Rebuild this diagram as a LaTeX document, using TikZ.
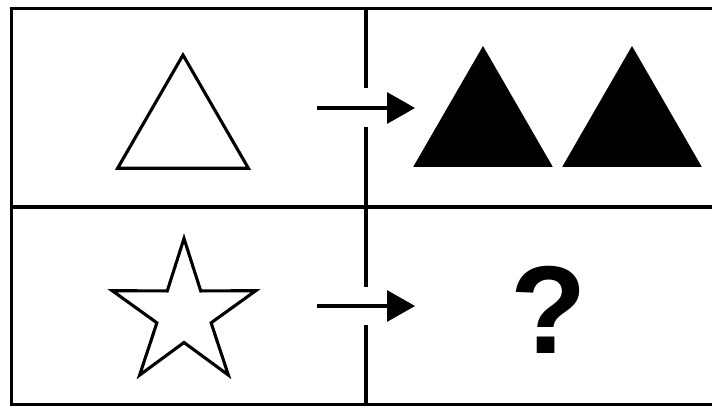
\documentclass[tikz,border=0pt]{standalone}
\usepackage{fontspec}
\setmainfont{Liberation Sans}
\usetikzlibrary{shapes.geometric,arrows.meta,positioning}

\begin{document}
\begin{tikzpicture}[x=1pt,y=-1pt,
  grid/.style={line width=3.2pt,line cap=butt},
  shapeline/.style={draw,line width=3.1pt,line join=miter,inner sep=0pt,outer sep=0pt},
  tri/.style={regular polygon,regular polygon sides=3,inner sep=0pt,outer sep=0pt},
  solid tri/.style={tri,fill=black,minimum size=161pt},
  go/.style={line width=3.2pt,-{Triangle[length=28pt,width=31pt]}}
]
  \clip (0,0) rectangle (712,407);
  % frame and dividers
  \draw[grid] (11.5,8.5) rectangle (720,404.5);
  \draw[grid] (11.5,207) -- (720,207);
  \draw[grid] (366,8.5) -- (366,88);
  \draw[grid] (366,127) -- (366,287);
  \draw[grid] (366,325) -- (366,404.5);
  % first row
  \node[tri,shapeline,minimum size=151pt] (tri) at (183,130.5) {};
  \node[solid tri] (bigA) at (483,126.5) {};
  \node[solid tri] (bigB) at (632,126.5) {};
  % second row
  \node[star,star points=5,star point ratio=2.65,shapeline,minimum size=151pt] (star) at (184,314) {};
  \node[anchor=base,font=\fontsize{125}{125}\selectfont\bfseries,inner sep=0pt] (quest) at (549,353) {?};
  % arrows
  \coordinate (tail1) at (317,108);
  \coordinate (head1) at (415,108);
  \coordinate (tail2) at (317,306);
  \coordinate (head2) at (415,306);
  \draw[go] (tail1) -- (head1);
  \draw[go] (tail2) -- (head2);
\end{tikzpicture}
\end{document}
